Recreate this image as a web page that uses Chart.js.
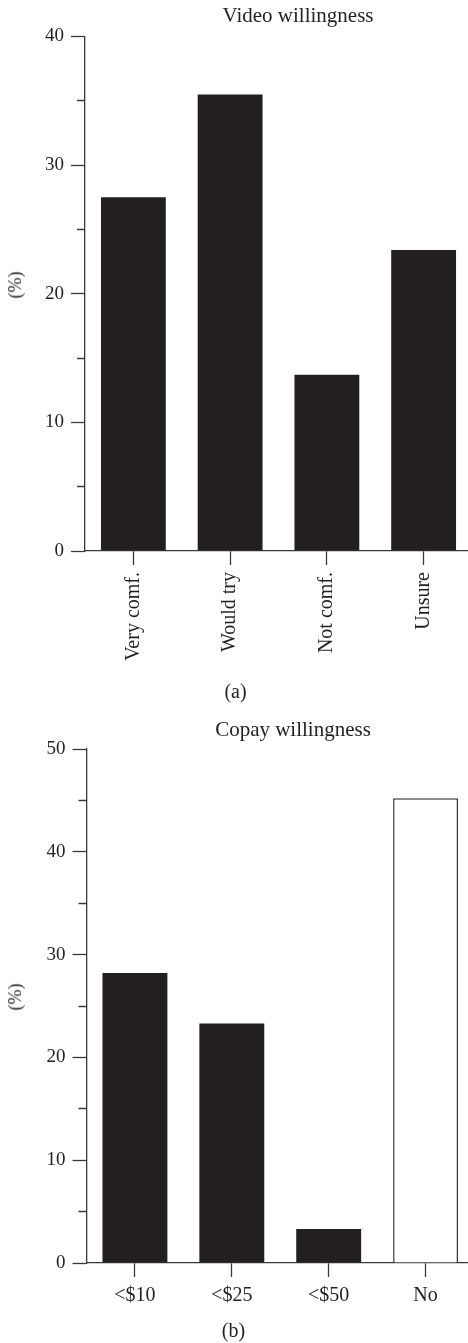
<!DOCTYPE html>
<html><head><meta charset="utf-8">
<script src="https://cdn.jsdelivr.net/npm/chart.js@4/dist/chart.umd.min.js"></script>
<style>
html,body{margin:0;padding:0;background:#fff;overflow:hidden;width:468px;height:1343px;}
.wrap{position:absolute;left:0;}
.txt{position:absolute;font-family:'Liberation Serif',serif;color:#231f20;white-space:nowrap;line-height:1;transform:translateX(-50%);}
.ytl{position:absolute;font-family:'Liberation Serif',serif;color:#231f20;white-space:nowrap;line-height:1;font-size:18px;transform:translate(-50%,-50%) rotate(-90deg);}
</style></head><body>
<div class="wrap" style="top:0"><canvas id="ca" width="472" height="710"></canvas></div>
<div class="wrap" style="top:710px"><canvas id="cb" width="474" height="633"></canvas></div>
<div class="txt" style="left:298px;top:5px;font-size:21px">Video willingness</div>
<div class="txt" style="left:235.5px;top:681px;font-size:20px">(a)</div>
<div class="txt" style="left:293px;top:719px;font-size:21px">Copay willingness</div>
<div class="txt" style="left:233.5px;top:1320px;font-size:20px">(b)</div>
<div class="ytl" style="left:15px;top:285px">(%)</div>
<div class="ytl" style="left:15px;top:997px">(%)</div>
<script>
const videoCategories = ['Very comf.', 'Would try', 'Not comf.', 'Unsure'];
const videoValues = [27.5, 35.5, 13.7, 23.4];
const videoTicks = [0, 10, 20, 30, 40];

const copayCategories = ['<$10', '<$25', '<$50', 'No'];
const copayValues = [28.2, 23.3, 3.3, 45.2];
const copayTicks = [0, 10, 20, 30, 40, 50];

const FONT = "'Liberation Serif', serif";
const TEXT = '#231f20';
const AXIS = '#3a3a3a';
const BAR = '#231f20';

function makeChart(id, cats, vals, majors, cfg) {
  return new Chart(document.getElementById(id), {
    type: 'bar',
    data: {
      labels: cats,
      datasets: [{
        data: vals,
        backgroundColor: cfg.fills,
        borderColor: AXIS,
        borderWidth: cfg.borders,
        borderSkipped: 'start',
        barPercentage: 0.67,
        categoryPercentage: 1.0
      }]
    },
    options: {
      responsive: false,
      animation: false,
      devicePixelRatio: 1,
      layout: { padding: { top: cfg.top, left: 0, right: 0, bottom: 0 } },
      plugins: { legend: { display: false }, tooltip: { enabled: false }, title: { display: false } },
      scales: {
        x: {
          offset: true,
          grid: { offset: false, drawOnChartArea: false, drawTicks: true, tickLength: 14, tickColor: AXIS, tickWidth: 1.3 },
          border: { display: true, color: AXIS, width: 1.3 },
          ticks: { color: TEXT, font: { family: FONT, size: 20 }, padding: 7, minRotation: cfg.rot, maxRotation: cfg.rot, autoSkip: false },
          afterFit: s => { s.height = cfg.xHeight; }
        },
        y: {
          min: 0,
          max: majors[majors.length - 1],
          ticks: {
            stepSize: 5, padding: 7, color: TEXT, font: { family: FONT, size: 19 }, autoSkip: false,
            callback: v => majors.includes(v) ? String(v) : ''
          },
          grid: {
            drawOnChartArea: false, drawTicks: true, tickLength: 14, tickColor: AXIS, tickWidth: 1.3,
            tickBorderDash: ctx => (ctx.tick && majors.includes(ctx.tick.value)) ? [] : [0, 6, 8, 100]
          },
          border: { display: true, color: AXIS, width: 1.3 },
          title: { display: false },
          afterFit: s => { s.width = cfg.yWidth; }
        }
      }
    }
  });
}

makeChart('ca', videoCategories, videoValues, videoTicks, {
  fills: [BAR, BAR, BAR, BAR], borders: [0, 0, 0, 0], top: 36.5, rot: 90, xHeight: 159, yWidth: 85
});
makeChart('cb', copayCategories, copayValues, copayTicks, {
  fills: [BAR, BAR, BAR, '#ffffff'], borders: [0, 0, 0, 1.5], top: 39, rot: 0, xHeight: 80, yWidth: 86.5
});
</script>
</body></html>
